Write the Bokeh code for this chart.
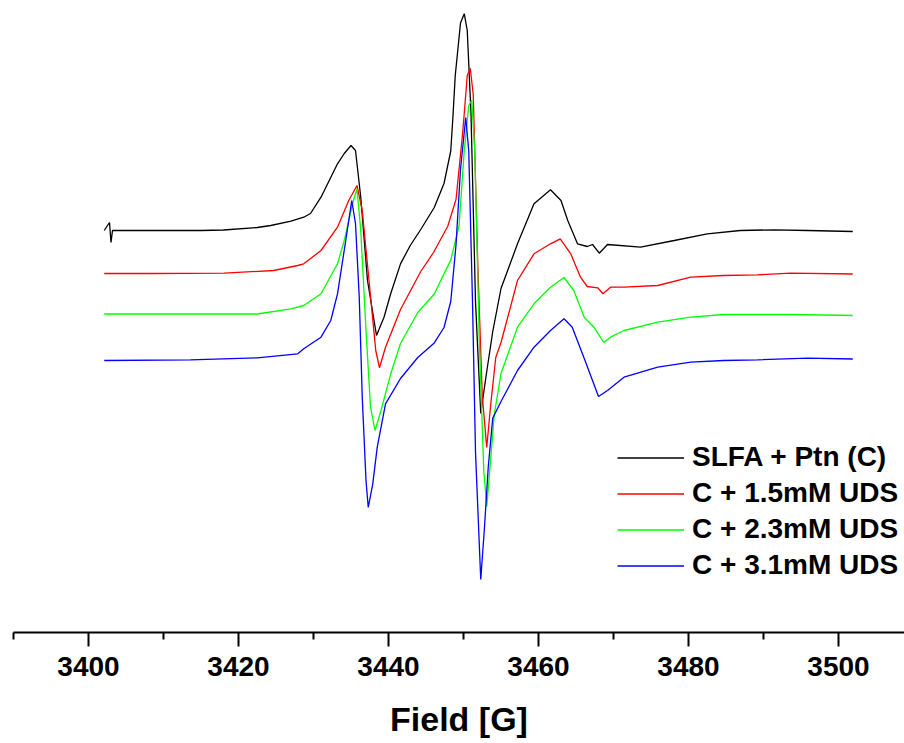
from bokeh.plotting import figure
from bokeh.models import Legend, LegendItem, FixedTicker, Range1d
from bokeh.embed import file_html
from bokeh.resources import INLINE

# ---- data (field in G, signal in arbitrary units relative to each trace's baseline) ----
field_c = [3402.1, 3402.8, 3403.0, 3403.2, 3408.3, 3415.0, 3418.0, 3422.5, 3424.3, 3427.0,
           3428.7, 3429.6, 3431.0, 3432.1, 3433.2, 3434.1, 3435.0, 3435.6, 3436.3, 3437.2,
           3438.4, 3439.4, 3440.3, 3441.6, 3442.9, 3444.3, 3446.1, 3447.4, 3448.3, 3448.6,
           3448.9, 3449.3, 3449.6, 3450.1, 3450.5, 3451.0, 3451.6, 3452.3, 3453.0, 3453.9,
           3455.0, 3457.2, 3459.4, 3461.6, 3463.0, 3463.9, 3465.2, 3466.5, 3467.2, 3468.1,
           3469.2, 3473.6, 3478.1, 3482.5, 3486.9, 3491.4, 3495.9, 3501.9]
sig_c = [0, 8, -12, 0, 0, 0, 0.5, 3, 5, 9.3,
         13.3, 17, 33.3, 50, 66.7, 77, 85, 80, 33.3, -50,
         -105, -86.7, -63, -33.4, -15, 1, 23, 47, 79.5, 115,
         155, 185, 207.4, 216.8, 200, 117, -71, -183, -146, -101,
         -58, -13.3, 26.7, 40.7, 30, 10, -13.3, -16, -14, -22.7,
         -14, -16.7, -10, -3.3, 0, 0.7, 0, -1]

field_15 = [3402.1, 3408.3, 3418.1, 3424.7, 3427.9, 3428.7, 3431.0, 3433.2, 3434.7, 3435.8,
            3436.5, 3437.4, 3438.3, 3438.8, 3439.6, 3441.6, 3444.3, 3446.0, 3447.9, 3449.0,
            3449.9, 3450.5, 3450.9, 3451.3, 3451.9, 3452.5, 3453.1, 3453.6, 3454.3, 3455.0,
            3457.2, 3459.4, 3461.6, 3462.9, 3464.3, 3465.6, 3466.5, 3467.9, 3468.6, 3469.6,
            3471.4, 3475.9, 3480.3, 3484.7, 3489.2, 3493.6, 3501.9]
sig_15 = [0, 0, 0.3, 3, 8, 9.7, 23, 46.3, 73, 88,
          63, -7, -77, -94.3, -73.7, -36, 2, 21, 47.3, 74,
          141.3, 198, 205.3, 179, 10, -122, -174, -133, -84, -69,
          -7, 19.7, 29.7, 34.7, 19.7, -3.7, -13, -14.3, -20.3, -13.7,
          -13.7, -12, -3.7, -2, -1.3, 0.3, -0.5]

field_23 = [3402.1, 3413.6, 3422.5, 3427.0, 3428.7, 3431.0, 3433.2, 3434.1, 3435.2, 3435.8,
            3436.3, 3437.0, 3437.6, 3438.2, 3439.0, 3440.3, 3441.6, 3443.9, 3446.1, 3448.3,
            3449.4, 3450.1, 3450.7, 3451.1, 3451.5, 3452.1, 3452.7, 3453.1, 3453.5, 3454.1,
            3455.0, 3457.2, 3459.4, 3461.6, 3463.4, 3464.7, 3466.1, 3467.4, 3468.7, 3469.6,
            3471.4, 3475.9, 3480.3, 3484.7, 3489.2, 3493.6, 3501.9]
sig_23 = [0, 0, 0, 5.2, 8.5, 20.2, 50.2, 73.5, 110.2, 125.2,
          83.5, -16.5, -93.2, -116.5, -96.5, -59.8, -29.5, 1.5, 20, 53.9,
          87.8, 163, 208.5, 213.8, 163, -25.1, -156.5, -192.5, -156.5, -100.5,
          -59.5, -13.2, 10.2, 26.8, 36.5, 23.5, -3.2, -13.2, -28.5, -23.2,
          -16.5, -8.2, -3.2, -0.5, -0.5, -0.5, -1.5]

field_31 = [3402.1, 3413.6, 3422.5, 3427.9, 3428.7, 3431.0, 3432.3, 3433.2, 3434.3, 3435.1,
            3435.6, 3436.1, 3436.5, 3437.0, 3437.3, 3437.9, 3438.5, 3439.6, 3441.6, 3443.9,
            3446.1, 3447.4, 3448.3, 3449.0, 3449.6, 3450.3, 3450.7, 3451.2, 3451.6, 3452.3,
            3452.8, 3453.3, 3453.9, 3455.0, 3457.2, 3459.4, 3461.6, 3463.4, 3464.5, 3466.1,
            3468.0, 3469.2, 3471.4, 3475.9, 3480.3, 3484.7, 3489.2, 3495.9, 3501.9]
sig_31 = [-1, -0.3, 1.7, 5.7, 10.7, 22.3, 39, 65.7, 119, 159,
          136, 62.3, -37.7, -121, -148, -124.3, -87.7, -44.3, -19, 2,
          16.6, 32, 58, 114.5, 190, 242, 208.5, 58, -92.5, -220,
          -167.7, -107.5, -58.6, -42, -11, 12.3, 29, 40.7, 32.3, 1,
          -37, -31, -17.7, -7.7, -2.7, -1, -0.3, 1.3, 0.5]

labels = ["SLFA + Ptn (C)", "C + 1.5mM UDS", "C + 2.3mM UDS", "C + 3.1mM UDS"]
offsets = [402, 359, 318.5, 273]
colors = ["#000000", "#FF0000", "#00FF00", "#0000FF"]
major_ticks = [3400, 3420, 3440, 3460, 3480, 3500]
minor_ticks = [3390, 3410, 3430, 3450, 3470, 3490, 3510]
x_title = "Field [G]"

series = [(field_c, sig_c), (field_15, sig_15), (field_23, sig_23), (field_31, sig_31)]

p = figure(frame_width=891, frame_height=624,
           x_range=Range1d(3390, 3508.8), y_range=Range1d(0, 624),
           output_backend="svg", toolbar_location=None,
           min_border_left=13, min_border_right=0, min_border_top=8, min_border_bottom=0,
           y_axis_location=None)
p.grid.visible = False
p.outline_line_color = None
p.background_fill_color = "white"
p.border_fill_color = "white"

items = []
for (fx, sy), off, col, lab in zip(series, offsets, colors, labels):
    r = p.line(fx, [off + s for s in sy], line_color=col, line_width=1.3)
    items.append(LegendItem(label=lab, renderers=[r]))

ax = p.xaxis[0]
ax.ticker = FixedTicker(ticks=major_ticks, minor_ticks=minor_ticks)
ax.axis_line_width = 2
ax.axis_line_color = "black"
ax.major_tick_line_width = 2
ax.minor_tick_line_width = 2
ax.major_tick_out = 14
ax.major_tick_in = 0
ax.minor_tick_out = 7
ax.minor_tick_in = 0
ax.major_label_text_font = "Liberation Sans"
ax.major_label_text_font_style = "bold"
ax.major_label_text_font_size = "28px"
ax.major_label_text_color = "black"
ax.major_label_standoff = 10
ax.axis_label = x_title
ax.axis_label_text_font = "Liberation Sans"
ax.axis_label_text_font_style = "bold"
ax.axis_label_text_font_size = "34px"
ax.axis_label_text_color = "black"
ax.axis_label_standoff = 21

legend = Legend(items=items, location=(604, 51), orientation="vertical",
                glyph_width=67, glyph_height=31, label_height=31, label_standoff=8,
                spacing=4, padding=0, margin=0, border_line_color=None,
                background_fill_alpha=0,
                label_text_font="Liberation Sans", label_text_font_style="bold",
                label_text_font_size="28px", label_text_color="black")
p.add_layout(legend)

open("out.html", "w").write(file_html(p, INLINE))
